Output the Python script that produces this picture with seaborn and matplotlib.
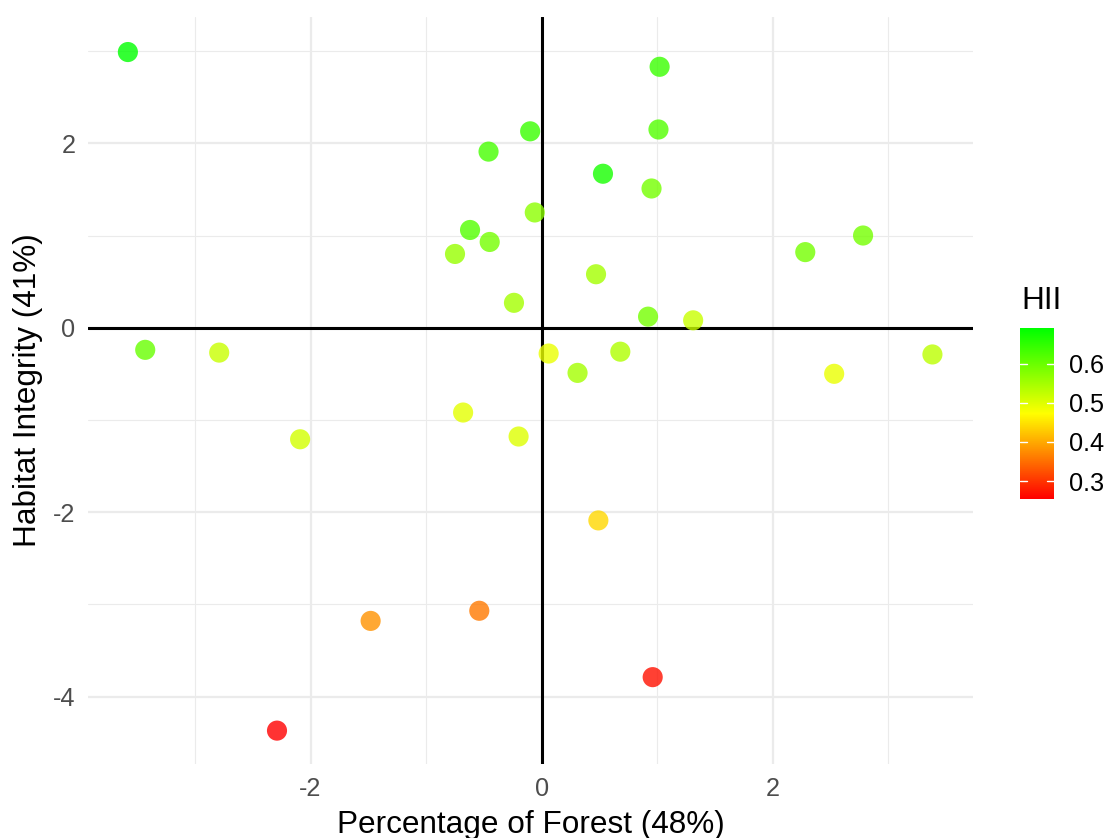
import numpy as np
import pandas as pd
import matplotlib
matplotlib.use("Agg")
import matplotlib.pyplot as plt
from matplotlib.colors import LinearSegmentedColormap, Normalize
from matplotlib.cm import ScalarMappable
import seaborn as sns

# Site scores on the two principal components and the habitat integrity index
pc1_forest = [-3.58, 1.02, -0.10, 1.01, -0.46, 0.53, 0.95, -0.06, -0.62, -0.45,
              -0.75, 2.28, 2.78, 0.47, -0.24, 0.92, 1.31, -3.43, -2.79, 0.06,
              0.68, 0.31, 2.53, 3.38, -0.68, -2.09, -0.20, 0.49, -0.54, -1.48,
              0.96, -2.29]
pc2_integrity = [2.99, 2.83, 2.13, 2.15, 1.91, 1.67, 1.51, 1.25, 1.06, 0.93,
                 0.80, 0.82, 1.00, 0.58, 0.27, 0.12, 0.08, -0.24, -0.27, -0.28,
                 -0.26, -0.49, -0.50, -0.29, -0.92, -1.21, -1.18, -2.09, -3.07, -3.18,
                 -3.79, -4.37]
hii = [0.69, 0.64, 0.64, 0.62, 0.63, 0.67, 0.59, 0.57, 0.62, 0.59,
       0.56, 0.59, 0.59, 0.55, 0.55, 0.59, 0.52, 0.60, 0.52, 0.49,
       0.54, 0.55, 0.49, 0.53, 0.495, 0.51, 0.50, 0.44, 0.36, 0.38,
       0.27, 0.255]

x_major = [-2, 0, 2]
x_minor = [-3, -1, 1, 3]
y_major = [-4, -2, 0, 2]
y_minor = [-3, -1, 1, 3]
legend_ticks = [0.3, 0.4, 0.5, 0.6]

df = pd.DataFrame({"PC1": pc1_forest, "PC2": pc2_integrity, "HII": hii})

sns.set_theme(style="white")
plt.rcParams["font.family"] = ["Liberation Sans", "DejaVu Sans"]

title_size = 22.7
text_size = 18.2

cmap = LinearSegmentedColormap.from_list("ryg", ["#FF0000", "#FFFF00", "#00FF00"])
norm = Normalize(vmin=min(hii), vmax=max(hii))

W, H = 1109, 838
fig = plt.figure(figsize=(W / 100, H / 100), dpi=100)
ax = fig.add_axes([88 / W, 1 - 764 / H, (973 - 88) / W, (764 - 17) / H])

ax.set_xlim(-3.925, 3.731)
ax.set_ylim(-4.732, 3.370)

grid_col = "#EBEBEB"
for v in x_minor:
    ax.axvline(v, color=grid_col, lw=0.8, zorder=0)
for v in y_minor:
    ax.axhline(v, color=grid_col, lw=0.8, zorder=0)
for v in x_major:
    ax.axvline(v, color=grid_col, lw=1.6, zorder=0)
for v in y_major:
    ax.axhline(v, color=grid_col, lw=1.6, zorder=0)

ax.axhline(0, color="black", lw=2.2, zorder=1)
ax.axvline(0, color="black", lw=2.2, zorder=1)

sns.scatterplot(data=df, x="PC1", y="PC2", hue="HII", palette=cmap, hue_norm=norm,
                s=210, alpha=0.8, linewidth=0, legend=False, ax=ax, zorder=3)

for s in ax.spines.values():
    s.set_visible(False)
ax.set_xticks(x_major)
ax.set_yticks(y_major)
ax.set_xticklabels([str(v) for v in x_major])
ax.set_yticklabels([str(v) for v in y_major])
ax.tick_params(axis="both", length=0, labelsize=text_size, labelcolor="#4D4D4D", pad=9)

ax.set_xlabel("Percentage of Forest (48%)", fontsize=title_size, color="black")
ax.xaxis.label.set_va("baseline")
ax.xaxis.set_label_coords(0.5, (764 - 833) / 747)
ax.set_ylabel("Habitat Integrity (41%)", fontsize=title_size, color="black")
ax.yaxis.label.set_va("baseline")
ax.yaxis.set_label_coords((36 - 88) / 885, 0.5)

# Colour bar legend
cax = fig.add_axes([1020 / W, 1 - 498.7 / H, 34 / W, 170.4 / H])
cb = fig.colorbar(ScalarMappable(norm=norm, cmap=cmap), cax=cax)
cb.outline.set_visible(False)
cb.set_ticks(legend_ticks)
cb.set_ticklabels([f"{v:.1f}" for v in legend_ticks])
cax.tick_params(length=0, labelsize=text_size, labelcolor="black", pad=11)
for v in legend_ticks:
    cax.axhline(v, xmin=0, xmax=0.2, color="white", lw=1)
    cax.axhline(v, xmin=0.8, xmax=1, color="white", lw=1)
fig.text(1021 / W, 1 - 309 / H, "HII", fontsize=title_size, color="black", ha="left", va="baseline")

fig.savefig("out.png", dpi=100)
